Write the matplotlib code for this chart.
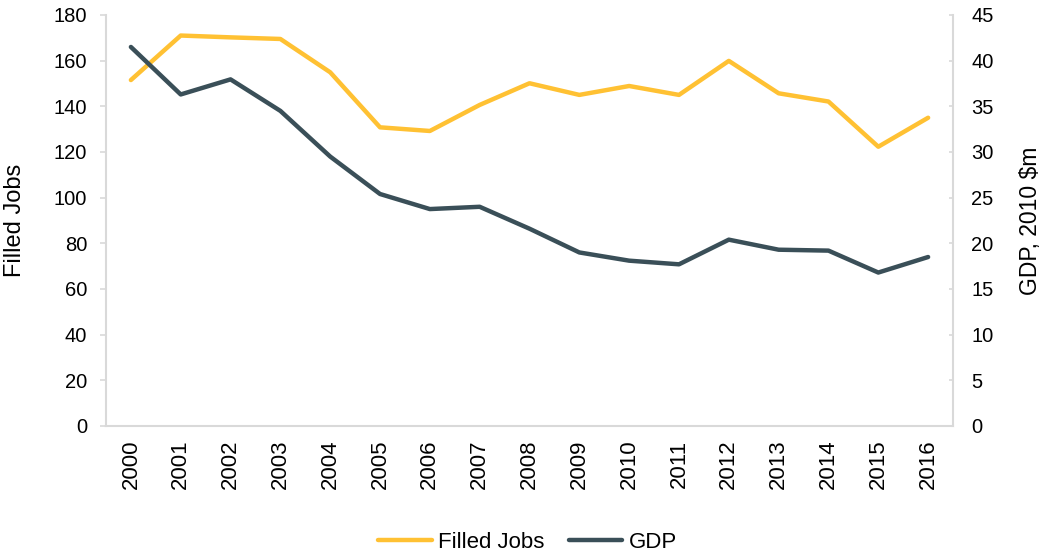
import matplotlib
matplotlib.use("Agg")
import matplotlib.pyplot as plt

plt.rcParams['font.family'] = ['Liberation Sans', 'DejaVu Sans']

# datos
anios = ['2000', '2001', '2002', '2003', '2004', '2005', '2006', '2007', '2008',
         '2009', '2010', '2011', '2012', '2013', '2014', '2015', '2016']
empleos = [151.5, 171, 170.2, 169.5, 154.9, 130.8, 129.2, 140.6, 150.1,
           145, 148.9, 145, 159.9, 145.7, 142.1, 122.3, 135.0]
pib = [41.5, 36.3, 37.95, 34.5, 29.5, 25.4, 23.75, 24.0, 21.6,
       19.0, 18.1, 17.7, 20.4, 19.3, 19.2, 16.8, 18.5]

amarillo = '#FFC133'
gris_oscuro = '#3A4F58'
gris_eje = '#D9D9D9'

fig = plt.figure(figsize=(10.41, 5.51), dpi=100)
ax = fig.add_axes([0.1018, 0.2269, 0.8137, 0.7459])
ax2 = ax.twinx()

x = list(range(len(anios)))
l1, = ax.plot(x, empleos, color=amarillo, lw=3.2, solid_capstyle='round', label='Filled Jobs', zorder=3)
l2, = ax2.plot(x, pib, color=gris_oscuro, lw=3.2, solid_capstyle='round', label='GDP', zorder=3)

ax.set_xlim(-0.5, len(anios) - 0.5)
ax.set_ylim(0, 180)
ax.set_yticks(range(0, 181, 20))
ax2.set_ylim(0, 45)
ax2.set_yticks(range(0, 46, 5))

ax.set_xticks(x)
ax.set_xticklabels(anios, rotation=90)

for a in (ax, ax2):
    a.spines['top'].set_visible(False)
    for s in a.spines.values():
        s.set_color(gris_eje)
        s.set_linewidth(1.5)
ax.spines['right'].set_visible(False)
ax2.spines['left'].set_visible(False)
ax2.spines['bottom'].set_visible(False)

ax.tick_params(axis='y', direction='out', length=4.5, width=1.2, color=gris_eje,
               labelsize=14.5, pad=9)
ax.tick_params(axis='x', length=0, labelsize=16, pad=10)
ax2.tick_params(axis='y', direction='in', length=3, width=1.2, color=gris_eje,
                labelsize=14.5, pad=13)

ax.set_ylabel('Filled Jobs', fontsize=17)
ax2.set_ylabel('GDP, 2010 $m', fontsize=16.5)
ax.yaxis.set_label_coords(-0.0945, 0.5)
ax2.yaxis.set_label_coords(1.0775, 0.5)

fig.legend([l1, l2], ['Filled Jobs', 'GDP'], loc='lower center', ncol=2,
           bbox_to_anchor=(0.507, -0.04), frameon=False, fontsize=16,
           handlelength=2.4, columnspacing=1.1, handletextpad=0.3)

fig.savefig('out.png', dpi=100)
